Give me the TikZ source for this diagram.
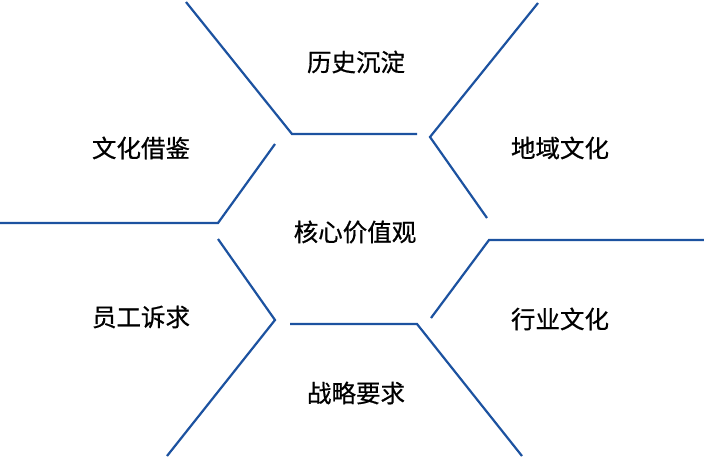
\documentclass[tikz,border=0pt]{standalone}
\usepackage{fontspec}
\newfontfamily\cjk[FakeBold=0.6]{Noto Sans CJK SC}
\definecolor{lineblue}{RGB}{28,82,160}
\begin{document}
\begin{tikzpicture}[x=1pt,y=-1pt,
  seg/.style={draw=lineblue,line width=2.2pt,line join=miter},
  lbl/.style={font=\cjk\fontsize{24.5}{24.5}\selectfont,text=black,inner sep=0pt}]
\useasboundingbox[fill=white] (0,0) rectangle (704,458);
% lines
\draw[seg] (186,2) -- (292,134) -- (417,134);
\draw[seg] (275,144) -- (218,223) -- (0,223);
\draw[seg] (538,3) -- (430,137) -- (487,218);
\draw[seg] (218,239) -- (275,320) -- (167,456);
\draw[seg] (290,324) -- (417,324) -- (522,456);
\draw[seg] (431,318) -- (489,240) -- (704,240);
% labels
\node[lbl] (ls) at (356,62) {历史沉淀};
\node[lbl] (wh) at (141,148) {文化借鉴};
\node[lbl] (dy) at (560,148) {地域文化};
\node[lbl] (hx) at (355,232) {核心价值观};
\node[lbl] (yg) at (141,317) {员工诉求};
\node[lbl] (hy) at (560,319) {行业文化};
\node[lbl] (zl) at (356,393) {战略要求};
\end{tikzpicture}
\end{document}
